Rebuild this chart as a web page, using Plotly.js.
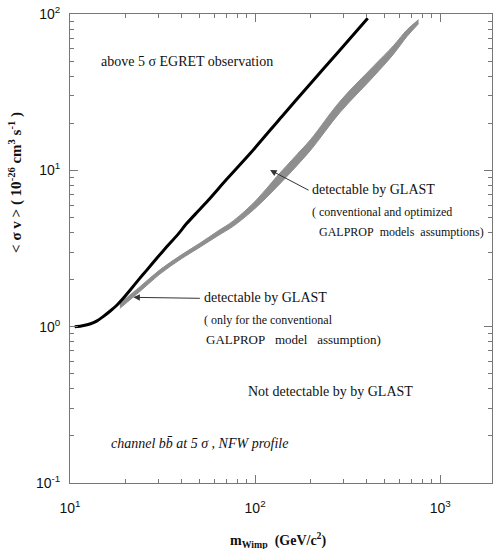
<!DOCTYPE html>
<html>
<head>
<meta charset="utf-8">
<script src="https://cdn.plot.ly/plotly-3.0.1.min.js"></script>
<style>
html,body{margin:0;padding:0;background:#fff;}
#chart{width:493px;height:549px;}
</style>
</head>
<body>
<div id="chart"></div>
<script>
// EGRET 5-sigma limit curve (black line)
var egretMass  = [10.6, 11.5, 12.8, 14, 15.1, 16.5, 17.9, 19.5, 21.1, 23.5, 26, 29.5, 33.3, 38, 42.8, 49, 56, 70, 94, 140, 200, 280, 406];
var egretSigma = [1.0, 1.01, 1.04, 1.09, 1.16, 1.26, 1.37, 1.53, 1.71, 2.0, 2.3, 2.75, 3.24, 3.85, 4.58, 5.45, 6.46, 8.73, 12.8, 22.2, 36.1, 56.7, 93.8];

// GLAST detectability band (grey), lower and upper edges
var glastMass  = [18.6, 24, 30.6, 40, 50.5, 63, 76.4, 102, 131, 168, 200, 288, 435, 559, 661, 764];
var glastLow   = [1.31, 1.69, 2.17, 2.72, 3.23, 3.82, 4.40, 5.83, 7.82, 10.7, 13.5, 23.5, 39.6, 55.3, 71.7, 86.7];
var glastHigh  = [1.41, 1.81, 2.31, 2.88, 3.43, 4.09, 4.76, 6.49, 9.13, 12.6, 15.8, 27.7, 46.2, 62.7, 79.1, 92.0];

// tick labels
var xTickVals = [10, 100, 1000];
var xTickText = ['10<sup>1</sup>', '10<sup>2</sup>', '10<sup>3</sup>'];
var yTickVals = [0.1, 1, 10, 100];
var yTickText = ['10<sup>-1</sup>', '10<sup>0</sup>', '10<sup>1</sup>', '10<sup>2</sup>'];

var grey = '#8e8e8e';
var serif = '"Liberation Serif"';
var sans = '"Liberation Sans"';
var S = '\u00a0';

var traces = [
  {x: glastMass, y: glastLow, mode: 'lines', line: {color: grey, width: 1, shape: 'spline'}, hoverinfo: 'skip', showlegend: false},
  {x: glastMass, y: glastHigh, mode: 'lines', fill: 'tonexty', fillcolor: grey, line: {color: grey, width: 1, shape: 'spline'}, hoverinfo: 'skip', showlegend: false},
  {x: egretMass, y: egretSigma, mode: 'lines', line: {color: '#000', width: 3, shape: 'spline', smoothing: 0.6}, hoverinfo: 'skip', showlegend: false}
];

function txt(x, y, t, size) {
  return {xref: 'paper', yref: 'paper', x: x, y: y, text: t, showarrow: false,
          xanchor: 'left', yanchor: 'middle', font: {family: serif, size: size, color: '#111'}};
}

var annotations = [
  txt(0.069, 0.898, 'above 5 σ EGRET observation', 14),
  txt(0.569, 0.625, 'detectable by GLAST', 14),
  txt(0.569, 0.578, '(' + S + 'conventional and optimized', 12),
  txt(0.586, 0.536, 'GALPROP' + S + S + 'models' + S + S + 'assumptions)', 12),
  txt(0.313, 0.395, 'detectable by GLAST', 14),
  txt(0.313, 0.348, '(' + S + 'only for the conventional', 12),
  txt(0.318, 0.306, 'GALPROP' + S + S + S + 'model' + S + S + S + 'assumption)', 13),
  txt(0.416, 0.195, 'Not detectable by by GLAST', 14),
  txt(0.092, 0.085, '<i>channel bb\u0304 at 5 σ , NFW profile</i>', 14),
  // arrows
  {xref: 'x', yref: 'y', x: Math.log10(120.5), y: Math.log10(10.05), ax: 40, ay: 21, text: '',
   showarrow: true, arrowhead: 2, arrowsize: 1.3, arrowwidth: 1, arrowcolor: '#333'},
  {xref: 'x', yref: 'y', x: Math.log10(22.0), y: Math.log10(1.54), ax: 68, ay: 1, text: '',
   showarrow: true, arrowhead: 2, arrowsize: 1.3, arrowwidth: 1, arrowcolor: '#333'},
  // axis titles
  {xref: 'paper', yref: 'paper', x: 0.495, y: -0.121, xanchor: 'center', yanchor: 'middle', showarrow: false,
   text: '<b>m<sub>Wimp</sub>' + S + S + '(GeV/c<sup>2</sup>)</b>', font: {family: serif, size: 14, color: '#111'}},
  {xref: 'paper', yref: 'paper', x: -0.128, y: 0.642, xanchor: 'center', yanchor: 'middle', showarrow: false, textangle: -90,
   text: '<b><' + S + 'σ' + S + 'v' + S + '>' + S + '(' + S + '10<sup>-26</sup>' + S + 'cm<sup>3</sup>' + S + 's<sup>-1</sup>' + S + ')</b>',
   font: {family: serif, size: 15, color: '#111'}}
];

var axisCommon = {
  type: 'log', showgrid: false, zeroline: false, showline: true, linecolor: '#777', linewidth: 1,
  mirror: 'allticks', ticks: 'inside', ticklen: 8, tickcolor: '#777', tickwidth: 1,
  tickmode: 'array', tickfont: {family: sans, size: 14, color: '#111'},
  minor: {ticks: 'inside', ticklen: 4, tickcolor: '#777', tickwidth: 1, dtick: 'D1', showgrid: false}
};

var xaxis = Object.assign({}, axisCommon, {
  range: [1, 3.28], tickvals: xTickVals, ticktext: xTickText, ticklabelstandoff: 12
});
var yaxis = Object.assign({}, axisCommon, {
  range: [-1, 2], tickvals: yTickVals, ticktext: yTickText, ticklabelstandoff: 6
});

var layout = {
  width: 493, height: 549,
  margin: {l: 70, r: 1, t: 14, b: 66},
  paper_bgcolor: '#fff', plot_bgcolor: '#fff',
  showlegend: false,
  font: {family: serif},
  xaxis: xaxis, yaxis: yaxis,
  annotations: annotations
};

Plotly.newPlot('chart', traces, layout, {staticPlot: true, displayModeBar: false});
</script>
</body>
</html>
